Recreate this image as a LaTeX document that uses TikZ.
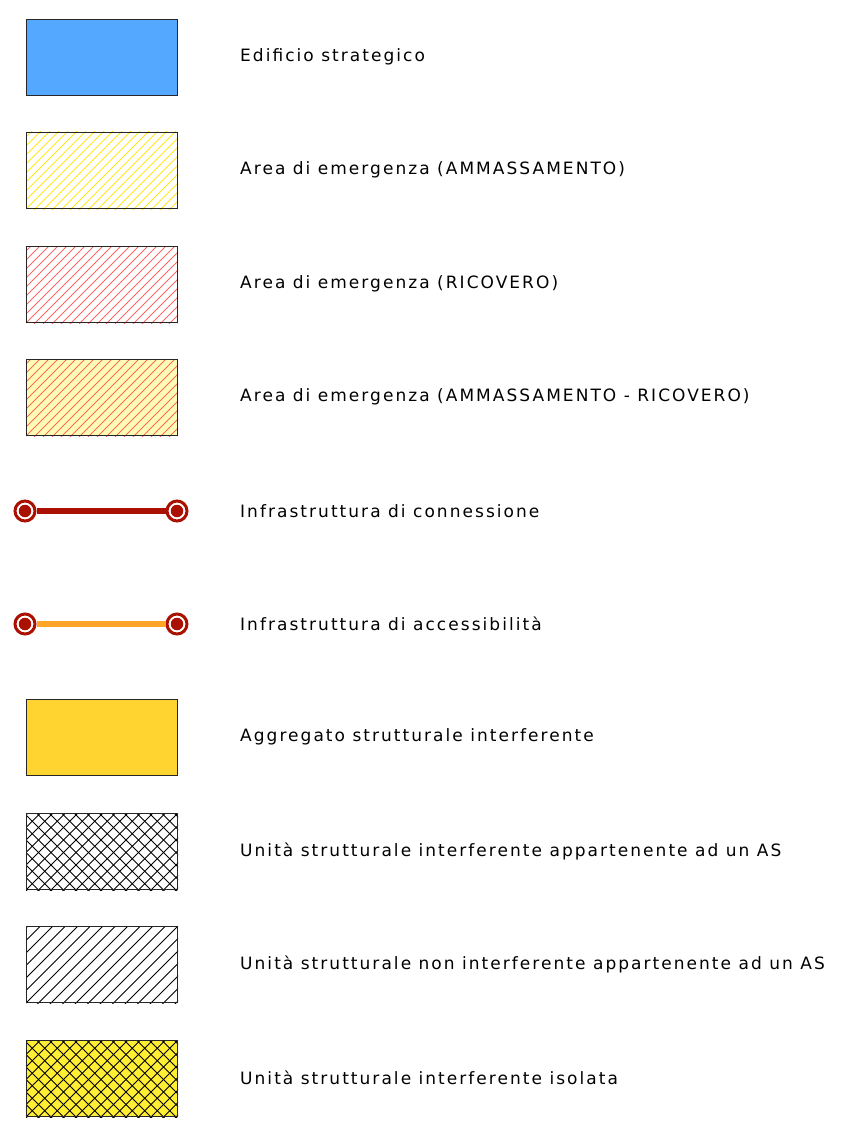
\documentclass[tikz,border=0pt]{standalone}
\usepackage{fontspec}
\setmainfont{DejaVu Sans}[LetterSpace=12]
\usetikzlibrary{calc}
\definecolor{blueF}{HTML}{55A8FF}
\definecolor{yelL}{HTML}{FFE81A}
\definecolor{redL}{HTML}{FF6666}
\definecolor{paleY}{HTML}{FFFDB3}
\definecolor{orangeF}{HTML}{FFD430}
\definecolor{darkR}{HTML}{AA1100}
\definecolor{orangeL}{HTML}{FFA52A}
\definecolor{yelF}{HTML}{FFEE33}
\newcommand{\hatchR}[4]{% node, color, spacing, width  ("/" lines)
  \begin{scope}
    \clip (#1.north west) rectangle (#1.south east);
    \foreach \k in {-12,...,30}{
      \draw[#2,line width=#4] ($(#1.south west)+(\k*#3,0)$) -- ++(100,-100) -- ++(-200,200);
    }
  \end{scope}}
\newcommand{\hatchL}[4]{% ("\" lines)
  \begin{scope}
    \clip (#1.north west) rectangle (#1.south east);
    \foreach \k in {-12,...,30}{
      \draw[#2,line width=#4] ($(#1.south west)+(\k*#3,0)$) -- ++(-100,-100) -- ++(200,200);
    }
  \end{scope}}
\begin{document}
\begin{tikzpicture}[x=1pt,y=-1pt,
  box/.style={draw=black!85,line width=1pt,minimum width=151pt,minimum height=76pt,inner sep=0pt,anchor=north west},
  lab/.style={anchor=west,font=\fontsize{17}{20}\selectfont,inner sep=0pt},
  endpt/.style={circle,draw=darkR,line width=3pt,fill=white,minimum size=20pt,inner sep=0pt},
  dot/.style={circle,fill=darkR,minimum size=12.5pt,inner sep=0pt}]
\useasboundingbox (0,0) rectangle (855,1145);
% 1
\node[box,fill=blueF] (b1) at (26,19) {};
\node[lab] (t1) at (240,57) {Edificio strategico};
% 2
\node[box] (b2) at (26,132) {};
\hatchR{b2}{yelL}{9}{0.9pt}
\node[box] at (26,132) {};
\node[lab] (t2) at (240,170) {Area di emergenza (AMMASSAMENTO)};
% 3
\node[box] (b3) at (26,246) {};
\hatchR{b3}{redL}{9}{0.9pt}
\node[box] at (26,246) {};
\node[lab] (t3) at (240,284) {Area di emergenza (RICOVERO)};
% 4
\node[box,fill=paleY] (b4) at (26,359) {};
\hatchR{b4}{redL}{9}{0.9pt}
\node[box] at (26,359) {};
\node[lab] (t4) at (240,397) {Area di emergenza (AMMASSAMENTO - RICOVERO)};
% 5
\node[endpt] (l5a) at (25,511) {};
\node[endpt] (l5b) at (177,511) {};
\draw[darkR,line width=6.5pt] (l5a) -- (l5b);
\node[dot] at (l5a) {};
\node[dot] at (l5b) {};
\node[lab] (t5) at (240,511) {Infrastruttura di connessione};
% 6
\node[endpt] (l6a) at (25,624) {};
\node[endpt] (l6b) at (177,624) {};
\draw[orangeL,line width=6.5pt] (l6a) -- (l6b);
\node[dot] at (l6a) {};
\node[dot] at (l6b) {};
\node[lab] (t6) at (240,624) {Infrastruttura di accessibilità};
% 7
\node[box,fill=orangeF] (b7) at (26,699) {};
\node[lab] (t7) at (240,737) {Aggregato strutturale interferente};
% 8
\node[box] (b8) at (26,813) {};
\hatchR{b8}{black}{12.5}{1pt}
\hatchL{b8}{black}{12.5}{1pt}
\node[box] at (26,813) {};
\node[lab] (t8) at (240,851) {Unità strutturale interferente appartenente ad un AS};
% 9
\node[box] (b9) at (26,926) {};
\hatchR{b9}{black}{12.5}{1pt}
\node[box] at (26,926) {};
\node[lab] (t9) at (240,964) {Unità strutturale non interferente appartenente ad un AS};
% 10
\node[box,fill=yelF] (b10) at (26,1040) {};
\hatchR{b10}{black}{12.5}{1pt}
\hatchL{b10}{black}{12.5}{1pt}
\node[box] at (26,1040) {};
\node[lab] (t10) at (240,1078) {Unità strutturale interferente isolata};
\end{tikzpicture}
\end{document}
